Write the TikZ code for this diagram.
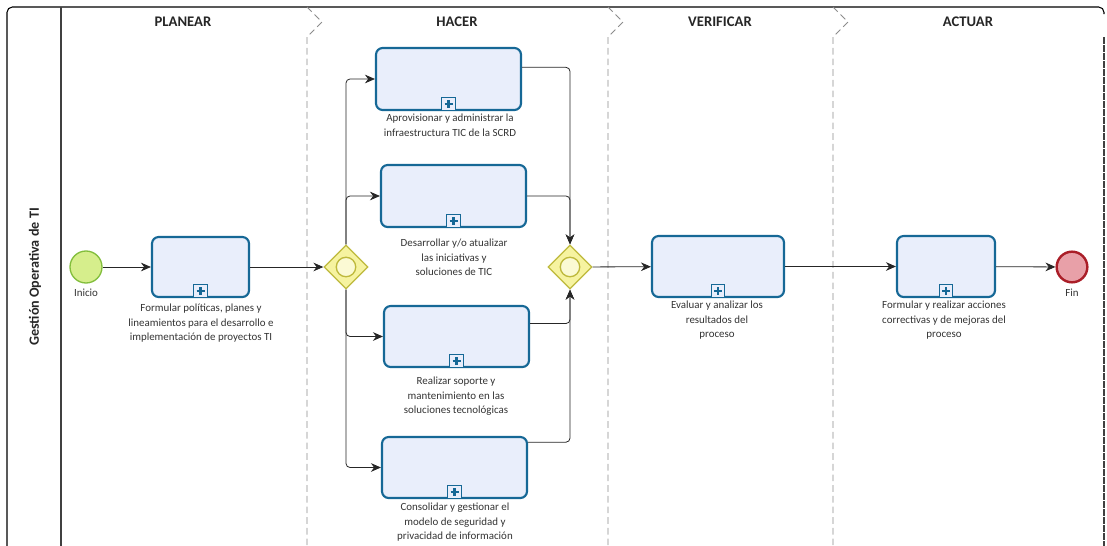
\documentclass[tikz,border=0pt]{standalone}
\usepackage{fontspec}
\setmainfont{Carlito}
\usetikzlibrary{shapes.geometric, arrows.meta, positioning}
\definecolor{taskline}{RGB}{22,104,150}
\definecolor{taskfill}{RGB}{233,238,251}
\definecolor{gateline}{RGB}{190,185,60}
\definecolor{gatefill}{RGB}{246,243,160}
\definecolor{startline}{RGB}{130,190,60}
\definecolor{startfill}{RGB}{214,238,140}
\definecolor{endline}{RGB}{170,30,40}
\definecolor{endfill}{RGB}{232,160,168}
\definecolor{phasegray}{RGB}{140,140,140}

\begin{document}
\begin{tikzpicture}[x=0.75pt,y=0.75pt,yscale=-1,xscale=1,
  task/.style={draw=taskline, fill=taskfill, line width=1.6pt, rounded corners=5pt, inner sep=0pt},
  plusbox/.style={draw=taskline, fill=taskfill, line width=0.9pt, minimum size=10pt, inner sep=0pt, anchor=south,
    path picture={\draw[taskline, line width=1.8pt]
      ([xshift=-3pt]path picture bounding box.center) -- ([xshift=3pt]path picture bounding box.center)
      ([yshift=-3pt]path picture bounding box.center) -- ([yshift=3pt]path picture bounding box.center);}},
  gateway/.style={diamond, draw=gateline, fill=gatefill, line width=1pt, minimum width=33pt, minimum height=33pt, inner sep=0pt,
    path picture={\draw[gateline, fill=gatefill!45!white, line width=1pt] (path picture bounding box.center) circle (7.3pt);}},
  startev/.style={circle, draw=startline, fill=startfill, line width=1pt, minimum size=24pt, inner sep=0pt},
  endev/.style={circle, draw=endline, fill=endfill, line width=1.8pt, minimum size=23pt, inner sep=0pt},
  lbl/.style={align=center, anchor=north, inner sep=0pt, text=black!80, font=\fontsize{8.2}{10.9}\selectfont},
  phasetitle/.style={font=\bfseries\fontsize{11}{12}\selectfont, text=black!85},
  phase/.style={draw=phasegray, line width=0.7pt, dash pattern=on 5pt off 3pt},
  flow/.style={draw=black!85, line width=0.6pt, rounded corners=3pt, -{Stealth[length=7.5pt,width=6.5pt]}}
]
\useasboundingbox (0,0) rectangle (1107,546);

%Pool and lane
\draw[line width=0.8pt, rounded corners=4pt] (7,546) -- (7,7) -- (1104,7) -- (1104,14);
\draw[black!75, line width=0.8pt] (61,7) -- (61,546);
\draw[black!75, line width=0.8pt, dash pattern=on 5pt off 1pt] (1104,37) -- (1104,546);
\node[rotate=90, phasetitle, font=\bfseries\fontsize{10.6}{12}\selectfont] (lane) at (35,277) {Gestión Operativa de TI};

%Phases
\foreach \x in {307,608,833}
  \draw[phase] (\x,7) -- ({\x+15},22) -- (\x,37) -- (\x,546);
\node[phasetitle] (planear) at (183,22) {PLANEAR};
\node[phasetitle] (hacer) at (457,22) {HACER};
\node[phasetitle] (verificar) at (720,22) {VERIFICAR};
\node[phasetitle] (actuar) at (968,22) {ACTUAR};

%Events and gateways
\node[startev] (inicio) at (86,267) {};
\node[gateway] (gw1) at (346,267) {};
\node[gateway] (gw2) at (570,267) {};
\node[endev] (fin) at (1072,267) {};

%Tasks
\node[task, minimum width=72.75pt, minimum height=45pt] (t1) at (200.5,267) {};
\node[task, minimum width=108.75pt, minimum height=46.5pt] (apro) at (448.5,79) {};
\node[task, minimum width=108.75pt, minimum height=46.5pt] (desa) at (453.5,196) {};
\node[task, minimum width=108.75pt, minimum height=45.75pt] (real) at (456.5,336.5) {};
\node[task, minimum width=108.75pt, minimum height=45.75pt] (cons) at (454.5,467.5) {};
\node[task, minimum width=99pt, minimum height=45.75pt] (eval) at (718,266.5) {};
\node[task, minimum width=73.5pt, minimum height=45.75pt] (act) at (946,266.5) {};
\foreach \t in {t1,apro,desa,real,cons,eval,act}
  \node[plusbox] (\t-plus) at (\t.south) {};

% Text Node
\node[lbl] (inicio-lbl) at (86,289) {Inicio};
% Text Node
\node[lbl] (fin-lbl) at (1072,289) {Fin};
% Text Node
\node[lbl] (t1-lbl) at (201,304) {Formular políticas, planes y\\lineamientos para el desarrollo e\\implementación de proyectos TI};
% Text Node
\node[lbl] (apro-lbl) at (450,114) {Aprovisionar y administrar la\\infraestructura TIC de la SCRD};
% Text Node
\node[lbl] (desa-lbl) at (454,239) {Desarrollar y/o atualizar\\las iniciativas y\\soluciones de TIC};
% Text Node
\node[lbl] (real-lbl) at (456,377) {Realizar soporte y\\mantenimiento en las\\soluciones tecnológicas};
% Text Node
\node[lbl] (cons-lbl) at (455,503) {Consolidar y gestionar el\\modelo de seguridad y\\privacidad de información};
% Text Node
\node[lbl] (eval-lbl) at (717,301) {Evaluar y analizar los\\resultados del\\proceso};
% Text Node
\node[lbl] (act-lbl) at (944,301) {Formular y realizar acciones\\correctivas y de mejoras del\\proceso};

%Sequence flows
\draw[flow] (inicio) -- (t1);
\draw[flow] (t1) -- (gw1);
\draw[flow] (gw1.north) |- (apro.west);
\draw[flow] (gw1.north) |- (desa.west);
\draw[flow] (gw1.south) |- (real.west);
\draw[flow] (gw1.south) |- (cons.west);
\draw[flow] (apro.9) -| (gw2.north);
\draw[flow] (desa.east) -| (gw2.north);
\draw[flow] (real.10) -| (gw2.south);
\draw[flow] (cons.19) -| (gw2.south);
\draw[flow] (gw2) -- (eval);
\draw[flow] (eval) -- (act);
\draw[flow] (act) -- (fin);

\end{tikzpicture}
\end{document}
